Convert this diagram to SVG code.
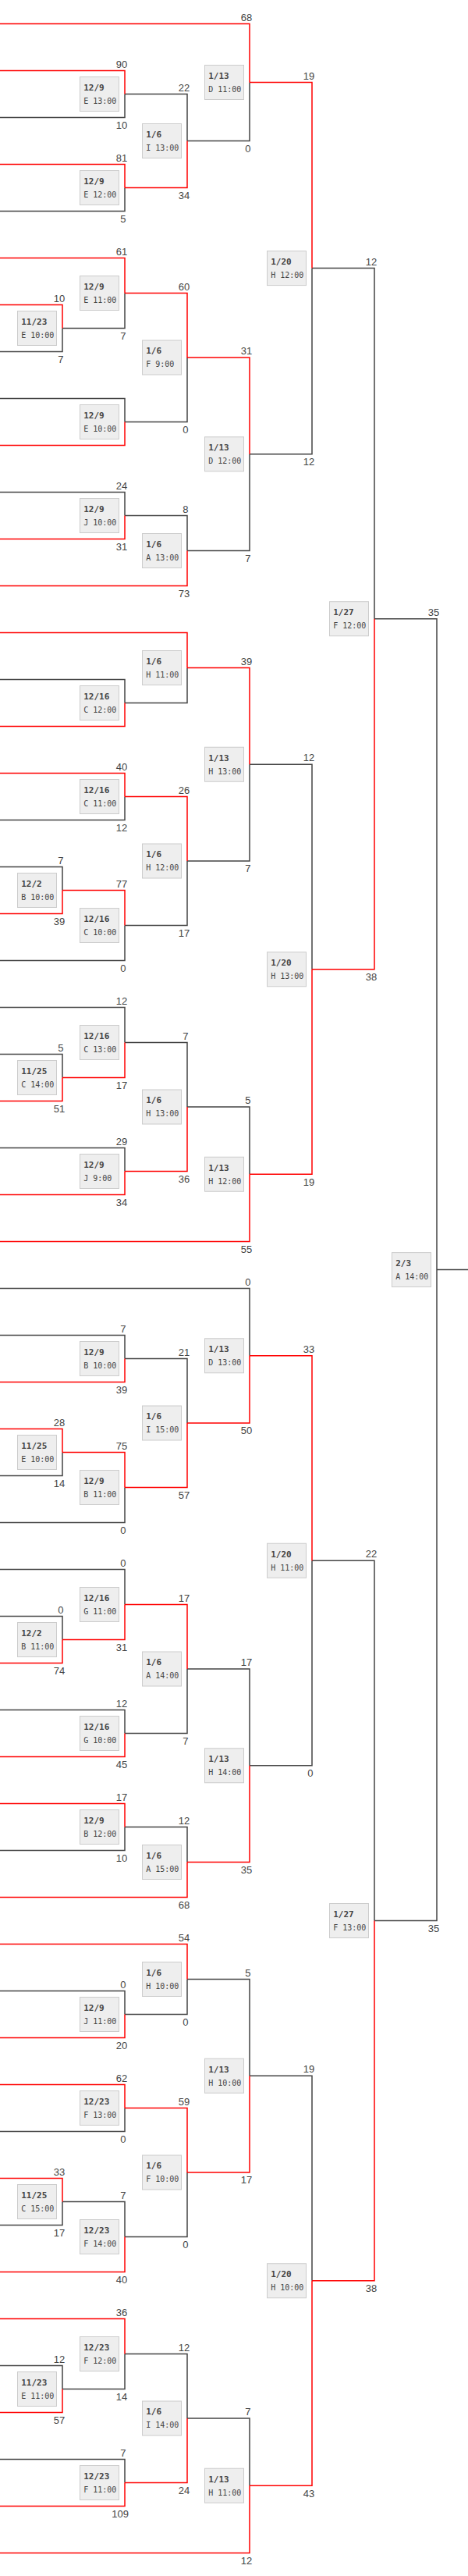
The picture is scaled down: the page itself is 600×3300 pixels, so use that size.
<svg xmlns="http://www.w3.org/2000/svg" width="600" height="3300" viewBox="0 0 600 3300">
<style>
.g{fill:none;stroke:#444;stroke-width:1.5}
.r{fill:none;stroke:#f00;stroke-width:1.5}
.b{fill:#eee;stroke:#ccc;stroke-width:1}
.d{font-family:"DejaVu Sans Mono","Liberation Mono",monospace;font-weight:bold;font-size:11px;fill:#444}
.t{font-family:"DejaVu Sans Mono","Liberation Mono",monospace;font-size:10px;fill:#444}
.s{font-family:"Liberation Sans",Arial,sans-serif;font-size:13px;fill:#444;text-anchor:middle}
</style>
<rect width="600" height="3300" fill="#fff"/>
<g id="connectors">
<path class="g" d="M0 450.5H80V420.5M0 1110.5H80V1140.5M0 1350.5H80V1380.5M0 1890.5H80V1860.5M0 2070.5H80V2100.5M0 2850.5H80V2820.5M0 3030.5H80V3060.5
M0 150.5H160V120.5M0 270.5H160V240.5M80 420.5H160V375.5M0 510.5H160V540.5M0 630.5H160V660.5M0 870.5H160V900.5M0 1050.5H160V1020.5M0 1230.5H160V1185.5M0 1290.5H160V1335.5M0 1470.5H160V1500.5M0 1710.5H160V1740.5M0 1950.5H160V1905.5M0 2010.5H160V2055.5M0 2190.5H160V2220.5M0 2370.5H160V2340.5M0 2550.5H160V2580.5M0 2730.5H160V2700.5M80 2820.5H160V2865.5M80 3060.5H160V3015.5M0 3150.5H160V3180.5
M160 120.5H240V180.5M160 540.5H240V458M160 660.5H240V705.5M160 900.5H240V855.5M160 1185.5H240V1103M160 1335.5H240V1418M160 1740.5H240V1823M160 2220.5H240V2138M160 2340.5H240V2385.5M160 2580.5H240V2535.5M160 2865.5H240V2783M160 3015.5H240V3098
M240 180.5H320V105.5M240 705.5H320V581.75M240 1103H320V979.25M240 1418H320V1504.25M0 1650.5H320V1736.75M240 2138H320V2261.75M240 2535.5H320V2659.25M240 3098H320V3184.25
M320 581.75H400V343.6M320 979.25H400V1241.75M320 2261.75H400V1999.25M320 2659.25H400V2921.75
M400 343.6H480V792.7M400 1999.25H480V2460.5
M480 792.7H560V2460.5H480M560 1626.6H600"/>
<path class="r" d="M0 390.5H80V420.5M0 1170.5H80V1140.5M0 1410.5H80V1380.5M0 1830.5H80V1860.5M0 2130.5H80V2100.5M0 2790.5H80V2820.5M0 3090.5H80V3060.5
M0 90.5H160V120.5M0 210.5H160V240.5M0 330.5H160V375.5M0 570.5H160V540.5M0 690.5H160V660.5M0 930.5H160V900.5M0 990.5H160V1020.5M80 1140.5H160V1185.5M80 1380.5H160V1335.5M0 1530.5H160V1500.5M0 1770.5H160V1740.5M80 1860.5H160V1905.5M80 2100.5H160V2055.5M0 2250.5H160V2220.5M0 2310.5H160V2340.5M0 2610.5H160V2580.5M0 2670.5H160V2700.5M0 2910.5H160V2865.5M0 2970.5H160V3015.5M0 3210.5H160V3180.5
M160 240.5H240V180.5M160 375.5H240V458M0 750.5H240V705.5M0 810.5H240V855.5M160 1020.5H240V1103M160 1500.5H240V1418M160 1905.5H240V1823M160 2055.5H240V2138M0 2430.5H240V2385.5M0 2490.5H240V2535.5M160 2700.5H240V2783M160 3180.5H240V3098
M0 30.5H320V105.5M240 458H320V581.75M240 855.5H320V979.25M0 1590.5H320V1504.25M240 1823H320V1736.75M240 2385.5H320V2261.75M240 2783H320V2659.25M0 3270.5H320V3184.25
M320 105.5H400V343.6M320 1504.25H400V1241.75M320 1736.75H400V1999.25M320 3184.25H400V2921.75
M400 1241.75H480V792.7M400 2921.75H480V2460.5"/>
</g>

<g id="m1a"><rect class="b" x="22.5" y="398.5" width="50" height="44"/><text class="d" x="27.2" y="415.9">11/23</text><text class="t" x="27.2" y="432.9">E 10:00</text><text class="s" x="76" y="386.5">10</text><text class="s" x="77.8" y="464.8">7</text></g>
<g id="m2a"><rect class="b" x="22.5" y="1118.5" width="50" height="44"/><text class="d" x="27.2" y="1135.9">12/2</text><text class="t" x="27.2" y="1152.9">B 10:00</text><text class="s" x="77.8" y="1106.5">7</text><text class="s" x="76" y="1184.8">39</text></g>
<g id="m25a"><rect class="b" x="22.5" y="1358.5" width="50" height="44"/><text class="d" x="27.2" y="1375.9">11/25</text><text class="t" x="27.2" y="1392.9">C 14:00</text><text class="s" x="77.8" y="1346.5">5</text><text class="s" x="76" y="1424.8">51</text></g>
<g id="m25b"><rect class="b" x="22.5" y="1838.5" width="50" height="44"/><text class="d" x="27.2" y="1855.9">11/25</text><text class="t" x="27.2" y="1872.9">E 10:00</text><text class="s" x="76" y="1826.5">28</text><text class="s" x="76" y="1904.8">14</text></g>
<g id="m2b"><rect class="b" x="22.5" y="2078.5" width="50" height="44"/><text class="d" x="27.2" y="2095.9">12/2</text><text class="t" x="27.2" y="2112.9">B 11:00</text><text class="s" x="77.8" y="2066.5">0</text><text class="s" x="76" y="2144.8">74</text></g>
<g id="m25c"><rect class="b" x="22.5" y="2798.5" width="50" height="44"/><text class="d" x="27.2" y="2815.9">11/25</text><text class="t" x="27.2" y="2832.9">C 15:00</text><text class="s" x="76" y="2786.5">33</text><text class="s" x="76" y="2864.8">17</text></g>
<g id="m23d"><rect class="b" x="22.5" y="3038.5" width="50" height="44"/><text class="d" x="27.2" y="3055.9">11/23</text><text class="t" x="27.2" y="3072.9">E 11:00</text><text class="s" x="76" y="3026.5">12</text><text class="s" x="76" y="3104.8">57</text></g>

<g id="m9a"><rect class="b" x="102.5" y="98.5" width="50" height="44"/><text class="d" x="107.2" y="115.9">12/9</text><text class="t" x="107.2" y="132.9">E 13:00</text><text class="s" x="156" y="86.5">90</text><text class="s" x="156" y="164.8">10</text></g>
<g id="m9b"><rect class="b" x="102.5" y="218.5" width="50" height="44"/><text class="d" x="107.2" y="235.9">12/9</text><text class="t" x="107.2" y="252.9">E 12:00</text><text class="s" x="156" y="206.5">81</text><text class="s" x="157.8" y="284.8">5</text></g>
<g id="m9c"><rect class="b" x="102.5" y="353.5" width="50" height="44"/><text class="d" x="107.2" y="370.9">12/9</text><text class="t" x="107.2" y="387.9">E 11:00</text><text class="s" x="156" y="326.5">61</text><text class="s" x="157.8" y="434.8">7</text></g>
<g id="m9d"><rect class="b" x="102.5" y="518.5" width="50" height="44"/><text class="d" x="107.2" y="535.9">12/9</text><text class="t" x="107.2" y="552.9">E 10:00</text></g>
<g id="m9e"><rect class="b" x="102.5" y="638.5" width="50" height="44"/><text class="d" x="107.2" y="655.9">12/9</text><text class="t" x="107.2" y="672.9">J 10:00</text><text class="s" x="156" y="626.5">24</text><text class="s" x="156" y="704.8">31</text></g>
<g id="m16a"><rect class="b" x="102.5" y="878.5" width="50" height="44"/><text class="d" x="107.2" y="895.9">12/16</text><text class="t" x="107.2" y="912.9">C 12:00</text></g>
<g id="m16b"><rect class="b" x="102.5" y="998.5" width="50" height="44"/><text class="d" x="107.2" y="1015.9">12/16</text><text class="t" x="107.2" y="1032.9">C 11:00</text><text class="s" x="156" y="986.5">40</text><text class="s" x="156" y="1064.8">12</text></g>
<g id="m16c"><rect class="b" x="102.5" y="1163.5" width="50" height="44"/><text class="d" x="107.2" y="1180.9">12/16</text><text class="t" x="107.2" y="1197.9">C 10:00</text><text class="s" x="156" y="1136.5">77</text><text class="s" x="157.8" y="1244.8">0</text></g>
<g id="m16d"><rect class="b" x="102.5" y="1313.5" width="50" height="44"/><text class="d" x="107.2" y="1330.9">12/16</text><text class="t" x="107.2" y="1347.9">C 13:00</text><text class="s" x="156" y="1286.5">12</text><text class="s" x="156" y="1394.8">17</text></g>
<g id="m9f"><rect class="b" x="102.5" y="1478.5" width="50" height="44"/><text class="d" x="107.2" y="1495.9">12/9</text><text class="t" x="107.2" y="1512.9">J 9:00</text><text class="s" x="156" y="1466.5">29</text><text class="s" x="156" y="1544.8">34</text></g>
<g id="m9g"><rect class="b" x="102.5" y="1718.5" width="50" height="44"/><text class="d" x="107.2" y="1735.9">12/9</text><text class="t" x="107.2" y="1752.9">B 10:00</text><text class="s" x="157.8" y="1706.5">7</text><text class="s" x="156" y="1784.8">39</text></g>
<g id="m9h"><rect class="b" x="102.5" y="1883.5" width="50" height="44"/><text class="d" x="107.2" y="1900.9">12/9</text><text class="t" x="107.2" y="1917.9">B 11:00</text><text class="s" x="156" y="1856.5">75</text><text class="s" x="157.8" y="1964.8">0</text></g>
<g id="m16e"><rect class="b" x="102.5" y="2033.5" width="50" height="44"/><text class="d" x="107.2" y="2050.9">12/16</text><text class="t" x="107.2" y="2067.9">G 11:00</text><text class="s" x="157.8" y="2006.5">0</text><text class="s" x="156" y="2114.8">31</text></g>
<g id="m16f"><rect class="b" x="102.5" y="2198.5" width="50" height="44"/><text class="d" x="107.2" y="2215.9">12/16</text><text class="t" x="107.2" y="2232.9">G 10:00</text><text class="s" x="156" y="2186.5">12</text><text class="s" x="156" y="2264.8">45</text></g>
<g id="m9i"><rect class="b" x="102.5" y="2318.5" width="50" height="44"/><text class="d" x="107.2" y="2335.9">12/9</text><text class="t" x="107.2" y="2352.9">B 12:00</text><text class="s" x="156" y="2306.5">17</text><text class="s" x="156" y="2384.8">10</text></g>
<g id="m9j"><rect class="b" x="102.5" y="2558.5" width="50" height="44"/><text class="d" x="107.2" y="2575.9">12/9</text><text class="t" x="107.2" y="2592.9">J 11:00</text><text class="s" x="157.8" y="2546.5">0</text><text class="s" x="156" y="2624.8">20</text></g>
<g id="m23a"><rect class="b" x="102.5" y="2678.5" width="50" height="44"/><text class="d" x="107.2" y="2695.9">12/23</text><text class="t" x="107.2" y="2712.9">F 13:00</text><text class="s" x="156" y="2666.5">62</text><text class="s" x="157.8" y="2744.8">0</text></g>
<g id="m23b"><rect class="b" x="102.5" y="2843.5" width="50" height="44"/><text class="d" x="107.2" y="2860.9">12/23</text><text class="t" x="107.2" y="2877.9">F 14:00</text><text class="s" x="157.8" y="2816.5">7</text><text class="s" x="156" y="2924.8">40</text></g>
<g id="m23c"><rect class="b" x="102.5" y="2993.5" width="50" height="44"/><text class="d" x="107.2" y="3010.9">12/23</text><text class="t" x="107.2" y="3027.9">F 12:00</text><text class="s" x="156" y="2966.5">36</text><text class="s" x="156" y="3074.8">14</text></g>
<g id="m23e"><rect class="b" x="102.5" y="3158.5" width="50" height="44"/><text class="d" x="107.2" y="3175.9">12/23</text><text class="t" x="107.2" y="3192.9">F 11:00</text><text class="s" x="157.8" y="3146.5">7</text><text class="s" x="154.2" y="3224.8">109</text></g>

<g id="m6a"><rect class="b" x="182.5" y="158.5" width="50" height="44"/><text class="d" x="187.2" y="175.9">1/6</text><text class="t" x="187.2" y="192.9">I 13:00</text><text class="s" x="236" y="116.5">22</text><text class="s" x="236" y="254.8">34</text></g>
<g id="m6b"><rect class="b" x="182.5" y="436" width="50" height="44"/><text class="d" x="187.2" y="453.4">1/6</text><text class="t" x="187.2" y="470.4">F 9:00</text><text class="s" x="236" y="371.5">60</text><text class="s" x="237.8" y="554.8">0</text></g>
<g id="m6c"><rect class="b" x="182.5" y="683.5" width="50" height="44"/><text class="d" x="187.2" y="700.9">1/6</text><text class="t" x="187.2" y="717.9">A 13:00</text><text class="s" x="237.8" y="656.5">8</text><text class="s" x="236" y="764.8">73</text></g>
<g id="m6d"><rect class="b" x="182.5" y="833.5" width="50" height="44"/><text class="d" x="187.2" y="850.9">1/6</text><text class="t" x="187.2" y="867.9">H 11:00</text></g>
<g id="m6e"><rect class="b" x="182.5" y="1081" width="50" height="44"/><text class="d" x="187.2" y="1098.4">1/6</text><text class="t" x="187.2" y="1115.4">H 12:00</text><text class="s" x="236" y="1016.5">26</text><text class="s" x="236" y="1199.8">17</text></g>
<g id="m6f"><rect class="b" x="182.5" y="1396" width="50" height="44"/><text class="d" x="187.2" y="1413.4">1/6</text><text class="t" x="187.2" y="1430.4">H 13:00</text><text class="s" x="237.8" y="1331.5">7</text><text class="s" x="236" y="1514.8">36</text></g>
<g id="m6g"><rect class="b" x="182.5" y="1801" width="50" height="44"/><text class="d" x="187.2" y="1818.4">1/6</text><text class="t" x="187.2" y="1835.4">I 15:00</text><text class="s" x="236" y="1736.5">21</text><text class="s" x="236" y="1919.8">57</text></g>
<g id="m6h"><rect class="b" x="182.5" y="2116" width="50" height="44"/><text class="d" x="187.2" y="2133.4">1/6</text><text class="t" x="187.2" y="2150.4">A 14:00</text><text class="s" x="236" y="2051.5">17</text><text class="s" x="237.8" y="2234.8">7</text></g>
<g id="m6i"><rect class="b" x="182.5" y="2363.5" width="50" height="44"/><text class="d" x="187.2" y="2380.9">1/6</text><text class="t" x="187.2" y="2397.9">A 15:00</text><text class="s" x="236" y="2336.5">12</text><text class="s" x="236" y="2444.8">68</text></g>
<g id="m6j"><rect class="b" x="182.5" y="2513.5" width="50" height="44"/><text class="d" x="187.2" y="2530.9">1/6</text><text class="t" x="187.2" y="2547.9">H 10:00</text><text class="s" x="236" y="2486.5">54</text><text class="s" x="237.8" y="2594.8">0</text></g>
<g id="m6k"><rect class="b" x="182.5" y="2761" width="50" height="44"/><text class="d" x="187.2" y="2778.4">1/6</text><text class="t" x="187.2" y="2795.4">F 10:00</text><text class="s" x="236" y="2696.5">59</text><text class="s" x="237.8" y="2879.8">0</text></g>
<g id="m6l"><rect class="b" x="182.5" y="3076" width="50" height="44"/><text class="d" x="187.2" y="3093.4">1/6</text><text class="t" x="187.2" y="3110.4">I 14:00</text><text class="s" x="236" y="3011.5">12</text><text class="s" x="236" y="3194.8">24</text></g>

<g id="m13a"><rect class="b" x="262.5" y="83.5" width="50" height="44"/><text class="d" x="267.2" y="100.9">1/13</text><text class="t" x="267.2" y="117.9">D 11:00</text><text class="s" x="316" y="26.5">68</text><text class="s" x="317.8" y="194.8">0</text></g>
<g id="m13b"><rect class="b" x="262.5" y="559.75" width="50" height="44"/><text class="d" x="267.2" y="577.15">1/13</text><text class="t" x="267.2" y="594.15">D 12:00</text><text class="s" x="316" y="454">31</text><text class="s" x="317.8" y="719.8">7</text></g>
<g id="m13c"><rect class="b" x="262.5" y="957.25" width="50" height="44"/><text class="d" x="267.2" y="974.65">1/13</text><text class="t" x="267.2" y="991.65">H 13:00</text><text class="s" x="316" y="851.5">39</text><text class="s" x="317.8" y="1117.3">7</text></g>
<g id="m13d"><rect class="b" x="262.5" y="1482.25" width="50" height="44"/><text class="d" x="267.2" y="1499.65">1/13</text><text class="t" x="267.2" y="1516.65">H 12:00</text><text class="s" x="317.8" y="1414">5</text><text class="s" x="316" y="1604.8">55</text></g>
<g id="m13e"><rect class="b" x="262.5" y="1714.75" width="50" height="44"/><text class="d" x="267.2" y="1732.15">1/13</text><text class="t" x="267.2" y="1749.15">D 13:00</text><text class="s" x="317.8" y="1646.5">0</text><text class="s" x="316" y="1837.3">50</text></g>
<g id="m13f"><rect class="b" x="262.5" y="2239.75" width="50" height="44"/><text class="d" x="267.2" y="2257.15">1/13</text><text class="t" x="267.2" y="2274.15">H 14:00</text><text class="s" x="316" y="2134">17</text><text class="s" x="316" y="2399.8">35</text></g>
<g id="m13g"><rect class="b" x="262.5" y="2637.25" width="50" height="44"/><text class="d" x="267.2" y="2654.65">1/13</text><text class="t" x="267.2" y="2671.65">H 10:00</text><text class="s" x="317.8" y="2531.5">5</text><text class="s" x="316" y="2797.3">17</text></g>
<g id="m13h"><rect class="b" x="262.5" y="3162.25" width="50" height="44"/><text class="d" x="267.2" y="3179.65">1/13</text><text class="t" x="267.2" y="3196.65">H 11:00</text><text class="s" x="317.8" y="3094">7</text><text class="s" x="316" y="3284.8">12</text></g>

<g id="m20a"><rect class="b" x="342.5" y="321.6" width="50" height="44"/><text class="d" x="347.2" y="339">1/20</text><text class="t" x="347.2" y="356">H 12:00</text><text class="s" x="396" y="101.5">19</text><text class="s" x="396" y="596.05">12</text></g>
<g id="m20b"><rect class="b" x="342.5" y="1219.75" width="50" height="44"/><text class="d" x="347.2" y="1237.15">1/20</text><text class="t" x="347.2" y="1254.15">H 13:00</text><text class="s" x="396" y="975.25">12</text><text class="s" x="396" y="1518.55">19</text></g>
<g id="m20c"><rect class="b" x="342.5" y="1977.25" width="50" height="44"/><text class="d" x="347.2" y="1994.65">1/20</text><text class="t" x="347.2" y="2011.65">H 11:00</text><text class="s" x="396" y="1732.75">33</text><text class="s" x="397.8" y="2276.05">0</text></g>
<g id="m20d"><rect class="b" x="342.5" y="2899.75" width="50" height="44"/><text class="d" x="347.2" y="2917.15">1/20</text><text class="t" x="347.2" y="2934.15">H 10:00</text><text class="s" x="396" y="2655.25">19</text><text class="s" x="396" y="3198.55">43</text></g>

<g id="m27a"><rect class="b" x="422.5" y="770.7" width="50" height="44"/><text class="d" x="427.2" y="788.1">1/27</text><text class="t" x="427.2" y="805.1">F 12:00</text><text class="s" x="476" y="339.6">12</text><text class="s" x="476" y="1256.05">38</text></g>
<g id="m27b"><rect class="b" x="422.5" y="2438.5" width="50" height="44"/><text class="d" x="427.2" y="2455.9">1/27</text><text class="t" x="427.2" y="2472.9">F 13:00</text><text class="s" x="476" y="1995.25">22</text><text class="s" x="476" y="2936.05">38</text></g>

<g id="final"><rect class="b" x="502.5" y="1604.6" width="50" height="44"/><text class="d" x="507.2" y="1622">2/3</text><text class="t" x="507.2" y="1639">A 14:00</text><text class="s" x="556" y="788.7">35</text><text class="s" x="556" y="2474.8">35</text></g>
</svg>
